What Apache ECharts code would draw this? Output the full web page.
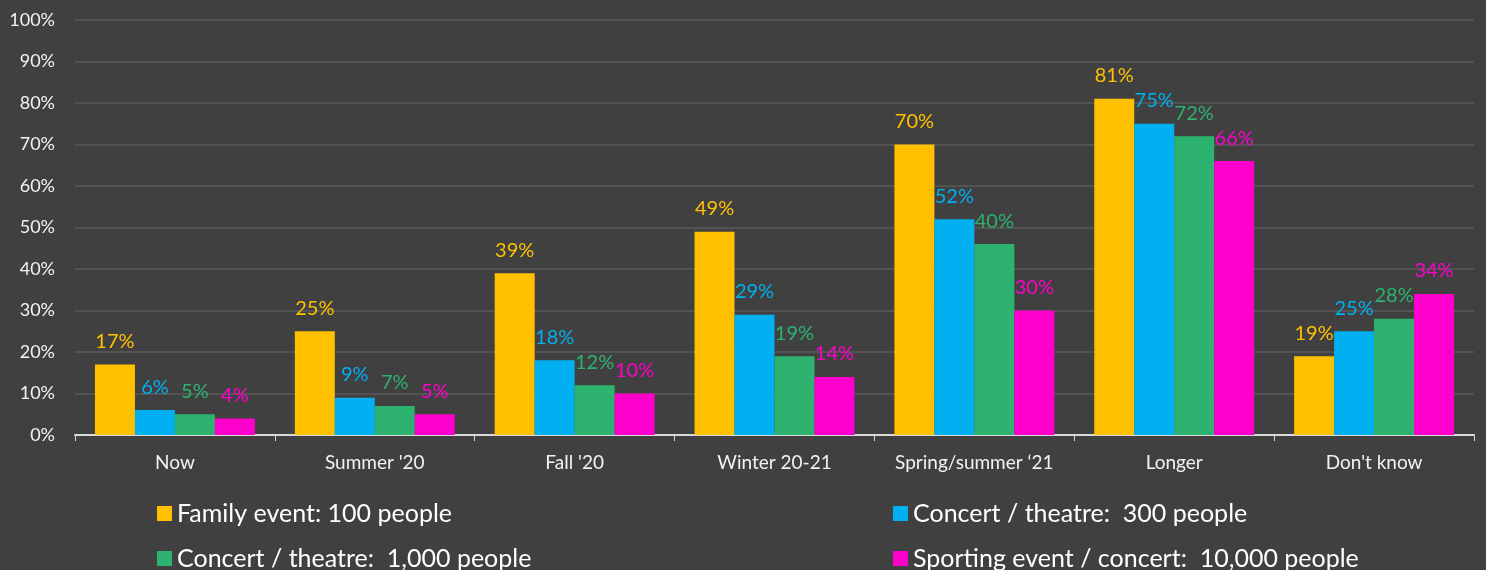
<!DOCTYPE html>
<html>
<head>
<meta charset="utf-8">
<script src="https://cdn.jsdelivr.net/npm/echarts@6/dist/echarts.min.js"></script>
<style>
  html, body { margin: 0; padding: 0; background: #404040; }
  #chart { width: 1486px; height: 570px; }
</style>
</head>
<body>
<div id="chart"></div>
<script>
const categories = ['Now', "Summer '20", "Fall '20", 'Winter 20-21', 'Spring/summer \u201821', 'Longer', "Don't know"]
const seriesNames = [
  'Family event: 100 people',
  'Concert / theatre:  300 people',
  'Concert / theatre:  1,000 people',
  'Sporting event / concert:  10,000 people'
]
const family100 = [17, 25, 39, 49, 70, 81, 19]
const concert300 = [6, 9, 18, 29, 52, 75, 25]
const concert1000 = [5, 7, 12, 19, 46, 72, 28]
const sporting10000 = [4, 5, 10, 14, 30, 66, 34]
// printed labels (one differs from its bar in the source)
const family100Labels = ['17%', '25%', '39%', '49%', '70%', '81%', '19%']
const concert300Labels = ['6%', '9%', '18%', '29%', '52%', '75%', '25%']
const concert1000Labels = ['5%', '7%', '12%', '19%', '40%', '72%', '28%']
const sporting10000Labels = ['4%', '5%', '10%', '14%', '30%', '66%', '34%']

const colors = ['#FFC000', '#00B0F0', '#2DB36F', '#FF00CC']
const fontFamily = 'Lato, "Open Sans", sans-serif'

const chart = echarts.init(document.getElementById('chart'))

function makeSeries(name, data, labels, color) {
  return {
    name: name,
    type: 'bar',
    data: data,
    barGap: '0%',
    barCategoryGap: '20%',
    itemStyle: { color: color },
    label: {
      show: true,
      position: 'top',
      distance: 13,
      color: color,
      fontSize: 20,
      fontFamily: fontFamily,
      formatter: p => labels[p.dataIndex]
    }
  }
}

// one legend per item so the 2x2 layout is fixed
function makeLegend(name, left, top) {
  return {
    data: [name],
    left: left,
    top: top,
    itemWidth: 15,
    itemHeight: 15,
    itemGap: 6,
    icon: 'rect',
    textStyle: { color: '#FFFFFF', fontSize: 25, fontFamily: fontFamily }
  }
}

const option = {
  backgroundColor: '#404040',
  animation: false,
  grid: { left: 75, right: 12, top: 20, bottom: 135 },
  legend: [
    makeLegend(seriesNames[0], 152, 496),
    makeLegend(seriesNames[1], 888, 496),
    makeLegend(seriesNames[2], 152, 541),
    makeLegend(seriesNames[3], 888, 541)
  ],
  xAxis: {
    type: 'category',
    data: categories,
    axisLine: { lineStyle: { color: '#D9D9D9', width: 2 } },
    axisTick: { show: true, length: 6, lineStyle: { color: '#D9D9D9' } },
    axisLabel: { color: '#F2F2F2', fontSize: 19, fontFamily: fontFamily, margin: 18, interval: 0 }
  },
  yAxis: {
    type: 'value',
    min: 0,
    max: 100,
    interval: 10,
    axisLabel: { color: '#F2F2F2', fontSize: 18, fontFamily: fontFamily, formatter: '{value}%', margin: 20 },
    axisLine: { show: false },
    axisTick: { show: false },
    splitLine: { lineStyle: { color: '#5A5A5A', width: 1.5 } }
  },
  series: [
    makeSeries(seriesNames[0], family100, family100Labels, colors[0]),
    makeSeries(seriesNames[1], concert300, concert300Labels, colors[1]),
    makeSeries(seriesNames[2], concert1000, concert1000Labels, colors[2]),
    makeSeries(seriesNames[3], sporting10000, sporting10000Labels, colors[3])
  ]
}

chart.setOption(option)
</script>
</body>
</html>
